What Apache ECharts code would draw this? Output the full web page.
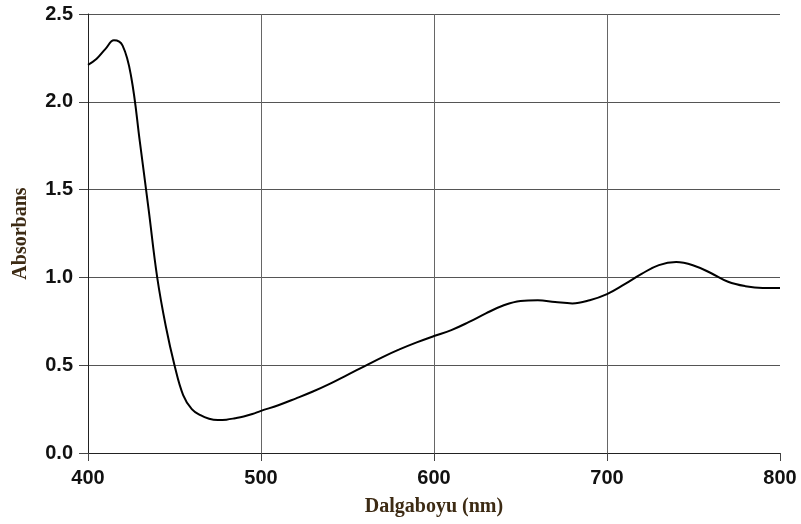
<!DOCTYPE html>
<html>
<head>
<meta charset="utf-8">
<script src="https://cdn.jsdelivr.net/npm/echarts@6/dist/echarts.min.js"></script>
<style>
  html, body { margin: 0; padding: 0; background: #fff; }
  #chart { width: 801px; height: 524px; }
</style>
</head>
<body>
<div id="chart"></div>
<script>
// wavelength (nm) and absorbance
var wavelength = [400, 405, 410, 415, 420, 425, 430, 435, 440, 445, 450, 455, 460, 465, 470, 475, 480, 485, 490, 495, 500, 510, 520, 530, 540, 550, 560, 570, 580, 590, 600, 610, 620, 630, 640, 650, 660, 670, 680, 690, 700, 710, 720, 730, 740, 750, 760, 770, 780, 790, 800];
var absorbance = [2.21, 2.245, 2.30, 2.35, 2.32, 2.14, 1.77, 1.39, 1.00, 0.72, 0.50, 0.33, 0.25, 0.215, 0.195, 0.188, 0.19, 0.198, 0.208, 0.222, 0.24, 0.272, 0.31, 0.35, 0.395, 0.445, 0.495, 0.545, 0.59, 0.63, 0.666, 0.70, 0.745, 0.795, 0.84, 0.866, 0.87, 0.86, 0.852, 0.87, 0.905, 0.96, 1.02, 1.07, 1.087, 1.068, 1.025, 0.975, 0.95, 0.94, 0.94];

var xTicks = [400, 500, 600, 700, 800];
var yTicks = [0, 0.5, 1.0, 1.5, 2.0, 2.5];

var points = wavelength.map(function (w, i) { return [w, absorbance[i]]; });

var chart = echarts.init(document.getElementById("chart"));

var option = {
  animation: false,
  backgroundColor: "#fff",
  grid: { left: 88, right: 21, top: 14, bottom: 71, outerBoundsMode: "none" },
  xAxis: {
    type: "value",
    min: xTicks[0],
    max: xTicks[xTicks.length - 1],
    interval: 100,
    offset: 2,
    name: "Dalgaboyu (nm)",
    nameLocation: "middle",
    nameGap: 42,
    nameTextStyle: {
      fontFamily: "Liberation Serif",
      fontWeight: "bold",
      fontSize: 20,
      color: "#3d2b14"
    },
    axisLine: { show: true, lineStyle: { color: "#222", width: 1 } },
    axisTick: { show: true, length: 8, lineStyle: { color: "#444" } },
    axisLabel: {
      margin: 13,
      fontFamily: "Liberation Sans",
      fontWeight: "bold",
      fontSize: 20,
      color: "#111"
    },
    splitLine: { show: true, showMinLine: false, showMaxLine: false, lineStyle: { color: "#666", width: 1 } }
  },
  yAxis: {
    type: "value",
    min: yTicks[0],
    max: yTicks[yTicks.length - 1],
    interval: 0.5,
    name: "Absorbans",
    nameLocation: "middle",
    nameGap: 57,
    nameTextStyle: {
      fontFamily: "Liberation Serif",
      fontWeight: "bold",
      fontSize: 20,
      color: "#3d2b14"
    },
    axisLine: { show: true, lineStyle: { color: "#222", width: 1 } },
    axisTick: { show: true, length: 9, lineStyle: { color: "#444" } },
    axisLabel: {
      margin: 15,
      fontFamily: "Liberation Sans",
      fontWeight: "bold",
      fontSize: 20,
      color: "#111",
      formatter: function (v) { return v.toFixed(1); }
    },
    splitLine: { show: true, lineStyle: { color: "#555", width: 1 } }
  },
  series: [
    {
      type: "line",
      data: points,
      smooth: 0.4,
      showSymbol: false,
      lineStyle: { color: "#000", width: 2 }
    }
  ]
};

chart.setOption(option);
</script>
</body>
</html>
